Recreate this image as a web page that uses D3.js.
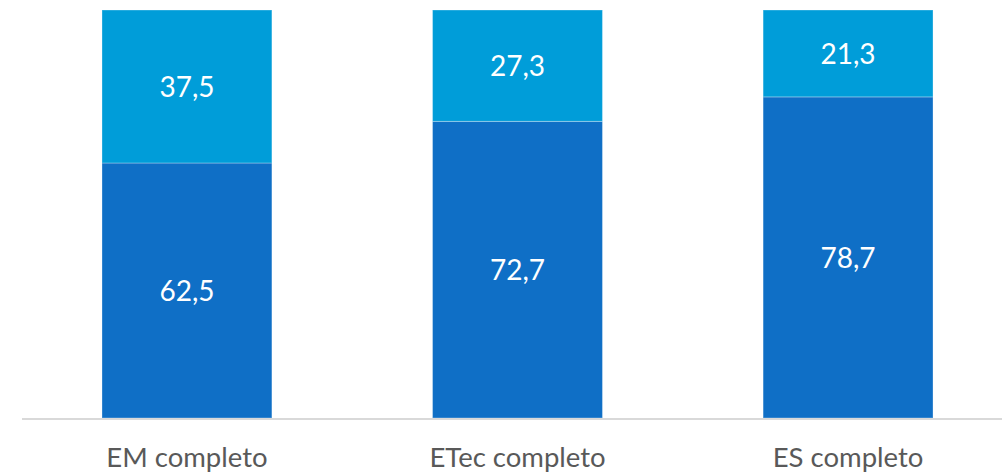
<!DOCTYPE html>
<html>
<head>
<meta charset="utf-8">
<script src="https://cdn.jsdelivr.net/npm/d3@7"></script>
<style>
  html, body { margin: 0; padding: 0; background: #fff; }
  svg { display: block; }
  text { font-family: Lato, "Open Sans", sans-serif; }
</style>
</head>
<body>
<svg id="chart" width="1004" height="476"></svg>
<script>
// Education levels and the two stacked shares (%)
const categories = ["EM completo", "ETec completo", "ES completo"];
const seriesKeys = ["lower", "upper"];
const lowerValues = [62.5, 72.7, 78.7];
const upperValues = [37.5, 27.3, 21.3];
const seriesColors = ["#0F6FC6", "#009DD9"];

const rows = categories.map((c, i) => ({ category: c, lower: lowerValues[i], upper: upperValues[i] }));

const svg = d3.select("#chart");
const baseY = 418, topY = 10;

const x = d3.scaleBand()
  .domain(categories)
  .range([22, 1013])
  .paddingInner(0.486)
  .paddingOuter(0.242);

const y = d3.scaleLinear().domain([0, 100]).range([baseY, topY]);

const stacked = d3.stack().keys(seriesKeys)(rows);
const fmt = v => d3.format(".1f")(v).replace(".", ",");

const layers = svg.selectAll("g.layer")
  .data(stacked)
  .join("g")
  .attr("class", "layer")
  .attr("fill", (d, i) => seriesColors[i]);

layers.selectAll("rect")
  .data(d => d)
  .join("rect")
  .attr("x", d => x(d.data.category))
  .attr("width", x.bandwidth())
  .attr("y", d => y(d[1]))
  .attr("height", d => y(d[0]) - y(d[1]))
  .attr("stroke", "rgba(255,255,255,0.3)")
  .attr("stroke-width", 1);

layers.selectAll("text")
  .data(d => d)
  .join("text")
  .attr("x", d => x(d.data.category) + x.bandwidth() / 2)
  .attr("y", d => (y(d[0]) + y(d[1])) / 2)
  .attr("dy", "0.36em")
  .attr("text-anchor", "middle")
  .attr("fill", "#ffffff")
  .attr("font-size", 28)
  .text(d => fmt(d[1] - d[0]));

// Category axis
const axis = d3.axisBottom(x).tickSize(0).tickPadding(0);
const gx = svg.append("g").attr("transform", `translate(0,${baseY})`).call(axis);
gx.select(".domain").remove();
svg.append("line")
  .attr("x1", 22).attr("x2", 1002)
  .attr("y1", baseY + 1).attr("y2", baseY + 1)
  .attr("stroke", "#d9d9d9").attr("stroke-width", 2);
gx.selectAll(".tick text")
  .attr("y", 49)
  .attr("dy", 0)
  .attr("fill", "#595959")
  .attr("font-size", 27.5)
  .style("font-family", "Lato, 'Open Sans', sans-serif");
</script>
</body>
</html>
